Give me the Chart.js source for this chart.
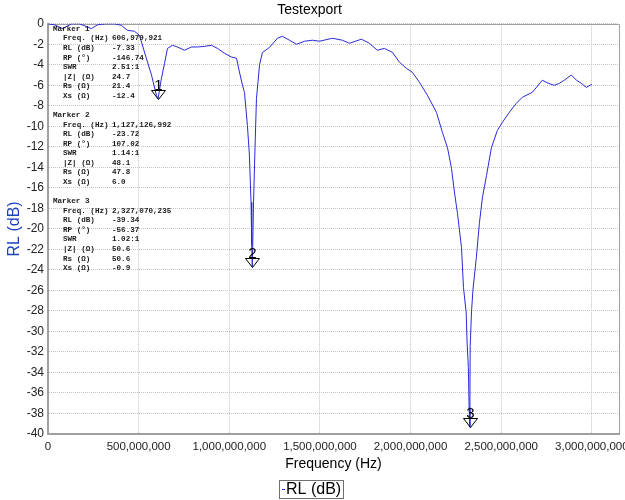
<!DOCTYPE html>
<html>
<head>
<meta charset="utf-8">
<title>Testexport</title>
<script src="https://cdn.jsdelivr.net/npm/chart.js@4.4.1/dist/chart.umd.min.js"></script>
<style>
  html, body { margin: 0; padding: 0; background: #fff; }
  #wrap { width: 625px; height: 500px; }
</style>
</head>
<body>
<div id="wrap"><canvas id="rlChart" width="625" height="500"></canvas></div>
<script>
// ---------------------------Data------------------------------------------------
// sweep frequency (MHz) and return loss (dB)
const freqMHz = [
  0, 36, 80, 130, 174, 240, 273, 317, 367, 405,
  438, 477, 505, 532, 571, 598, 607, 626, 643, 659,
  687, 714, 753, 792, 825, 863, 902, 935, 974, 1012,
  1040, 1056, 1073, 1084, 1100, 1111, 1120, 1124, 1127, 1134,
  1142, 1150, 1167, 1183, 1222, 1266, 1293, 1332, 1371, 1415,
  1459, 1498, 1569, 1624, 1663, 1729, 1773, 1817, 1856, 1900,
  1939, 1977, 2010, 2049, 2093, 2143, 2176, 2204, 2226, 2242,
  2259, 2281, 2292, 2307, 2312, 2319, 2323, 2327, 2329, 2336,
  2344, 2363, 2380, 2397, 2419, 2446, 2479, 2507, 2545, 2584,
  2617, 2672, 2727, 2760, 2793, 2821, 2848, 2887, 2915, 2942,
  2970, 3000
];
const rlDb = [
  0, -0.1, -0.47, 0, 0, -0.47, -0.1, 0, 0, -0.15,
  -0.63, -0.73, -1.12, -2.75, -5.0, -6.97, -7.33, -5.3, -3.85, -2.4,
  -2.1, -2.26, -2.58, -2.26, -2.26, -2.2, -2.1, -2.4, -2.88, -3.24,
  -3.36, -4.7, -6.0, -6.7, -9.9, -12.8, -17.4, -21.6, -23.72, -17.4,
  -12.1, -7.3, -4.0, -2.8, -2.3, -1.41, -1.22, -1.6, -2.0, -1.7,
  -1.6, -1.7, -1.41, -1.6, -1.9, -1.5, -1.9, -2.58, -2.4, -2.78,
  -3.75, -4.34, -4.73, -5.7, -6.97, -8.63, -10.6, -12.1, -14.1, -16.4,
  -18.5, -21.8, -25.7, -28.2, -31.1, -33.5, -37.4, -39.34, -31.5, -28.2,
  -26.0, -22.8, -19.4, -16.9, -14.8, -12.1, -10.4, -9.6, -8.63, -7.75,
  -7.16, -6.68, -5.5, -5.8, -6.0, -5.8, -5.5, -5.0, -5.5, -5.8,
  -6.2, -5.9
];

// marker readouts
const markerNames = ["1", "2", "3"];
const markerFreqHz = [606979921, 1127126992, 2327070235];
const markerRl = [-7.33, -23.72, -39.34];
const markerRp = [-146.74, 107.02, -56.37];
const markerSwr = [2.51, 1.14, 1.02];
const markerZ = [24.7, 48.1, 50.6];
const markerRs = [21.4, 47.8, 50.6];
const markerXs = [-12.4, 6.0, -0.9];

// axes
const xTickValues = [0, 500000000, 1000000000, 1500000000, 2000000000, 2500000000, 3000000000];
const xMaxHz = 3150000000;
const yMin = -40;
const yMax = 0;
const yStep = 2;
// ----------------------------------------------------------------------------------------------

Chart.defaults.font.family = '"Liberation Sans", Arial, sans-serif';
Chart.defaults.color = "#222";

// Triangles + numbers at each marker, and the readout block in the top left
const markerPlugin = {
  id: "markers",
  afterDatasetsDraw(chart) {
    const ctx = chart.ctx;
    const area = chart.chartArea;
    const meta = chart.getDatasetMeta(1);
    ctx.save();

    meta.data.forEach((pt, i) => {
      const x = Math.round(pt.x) + 0.5;
      const y = Math.round(pt.y) + 0.5;
      ctx.beginPath();
      ctx.moveTo(x, y);
      ctx.lineTo(x - 7, y - 9);
      ctx.lineTo(x + 7, y - 9);
      ctx.closePath();
      ctx.strokeStyle = "#000";
      ctx.lineWidth = 1;
      ctx.stroke();
      ctx.fillStyle = "#000";
      ctx.font = '15px "Liberation Sans", Arial, sans-serif';
      ctx.textAlign = "center";
      ctx.textBaseline = "alphabetic";
      ctx.fillText(markerNames[i], x, y - 10);
    });

    const rows = [];
    markerNames.forEach((n, i) => {
      rows.push(["Marker " + n, null]);
      rows.push(["Freq. (Hz)", markerFreqHz[i].toLocaleString("en-US")]);
      rows.push(["RL (dB)", markerRl[i].toFixed(2)]);
      rows.push(["RP (°)", markerRp[i].toFixed(2)]);
      rows.push(["SWR", markerSwr[i].toFixed(2) + ":1"]);
      rows.push(["|Z| (Ω)", markerZ[i].toFixed(1)]);
      rows.push(["Rs (Ω)", markerRs[i].toFixed(1)]);
      rows.push(["Xs (Ω)", markerXs[i].toFixed(1)]);
      rows.push(null);
    });
    ctx.font = 'bold 7.6px "Liberation Mono", "Courier New", monospace';
    ctx.fillStyle = "#1a1a1a";
    ctx.textAlign = "left";
    ctx.textBaseline = "middle";
    rows.forEach((r, k) => {
      if (!r) return;
      const y = 29 + k * 9.57;
      if (r[1] === null) {
        ctx.fillText(r[0], area.left + 5, y);
      } else {
        ctx.fillText(r[0], area.left + 15, y);
        ctx.fillText(r[1], area.left + 64, y);
      }
    });
    ctx.restore();
  },
};

// grey frame on the top/right edges of the plot
const framePlugin = {
  id: "frame",
  beforeDatasetsDraw(chart) {
    const { ctx, chartArea: a } = chart;
    ctx.save();
    ctx.strokeStyle = "#a0a0a0";
    ctx.lineWidth = 1;
    ctx.beginPath();
    ctx.moveTo(a.left, Math.round(a.top) + 0.5);
    ctx.lineTo(Math.round(a.right) + 0.5, Math.round(a.top) + 0.5);
    ctx.lineTo(Math.round(a.right) + 0.5, a.bottom);
    ctx.stroke();
    ctx.restore();
  },
};

// boxed legend under the axis title
const legendBoxPlugin = {
  id: "legendBox",
  afterDraw(chart) {
    const ctx = chart.ctx;
    const ds = chart.data.datasets[0];
    ctx.save();
    ctx.font = '16px "Liberation Sans", Arial, sans-serif';
    const tw = ctx.measureText(ds.label).width;
    const boxW = Math.round(tw + 9);
    const left = Math.round((chart.width - boxW) / 2) - 2;
    const top = 480;
    ctx.strokeStyle = "#707070";
    ctx.lineWidth = 1;
    ctx.strokeRect(left + 0.5, top + 0.5, boxW, 18);
    ctx.strokeStyle = ds.borderColor;
    ctx.beginPath();
    ctx.moveTo(left + 3, top + 9.5);
    ctx.lineTo(left + 6, top + 9.5);
    ctx.stroke();
    ctx.fillStyle = "#000";
    ctx.textAlign = "left";
    ctx.textBaseline = "middle";
    ctx.fillText(ds.label, left + 7, top + 10);
    ctx.restore();
  },
};

const gridStyle = { color: "#c4c4c4", lineWidth: 1, drawTicks: false };
const borderStyle = { display: true, color: "#a0a0a0", width: 2, dash: [1, 1] };

new Chart(document.getElementById("rlChart"), {
  type: "scatter",
  data: {
    datasets: [
      {
        label: "RL (dB)",
        data: freqMHz.map((f, i) => ({ x: f * 1e6, y: rlDb[i] })),
        showLine: true,
        borderColor: "#2a2ad6",
        borderWidth: 1,
        pointRadius: 0,
        pointHoverRadius: 0,
        tension: 0,
      },
      {
        label: "Markers",
        data: markerFreqHz.map((f, i) => ({ x: f, y: markerRl[i] })),
        showLine: false,
        pointRadius: 0,
        pointHoverRadius: 0,
      },
    ],
  },
  options: {
    responsive: false,
    animation: false,
    events: [],
    layout: { padding: { left: 0, right: 6, top: 0, bottom: 21 } },
    plugins: {
      legend: { display: false },
      tooltip: { enabled: false },
      title: {
        display: true,
        text: "Testexport",
        color: "#000",
        font: { size: 14, weight: "normal" },
        padding: { top: 2, bottom: 5 },
      },
    },
    scales: {
      x: {
        type: "linear",
        min: 0,
        max: xMaxHz,
        // fixed 500 MHz ticks; the axis itself runs a bit past 3 GHz
        afterBuildTicks: (s) => {
          s.ticks = xTickValues.map((v) => ({ value: v }));
        },
        afterFit: (s) => {
          s.height = 45;
          s.paddingLeft = 0;
          s.paddingRight = 0;
        },
        ticks: {
          autoSkip: false,
          maxRotation: 0,
          padding: 6,
          color: "#222",
          font: { size: 11.5 },
          callback: (v) => v.toLocaleString("en-US"),
        },
        grid: gridStyle,
        border: borderStyle,
        title: {
          display: true,
          text: "Frequency (Hz)",
          color: "#000",
          font: { size: 14 },
          padding: { top: 0, bottom: 6 },
        },
      },
      y: {
        min: yMin,
        max: yMax,
        afterFit: (s) => {
          s.width = 48;
        },
        ticks: { stepSize: yStep, padding: 4, color: "#222", font: { size: 12 } },
        grid: gridStyle,
        border: borderStyle,
        title: {
          display: true,
          text: "RL (dB)",
          color: "#1c3fc4",
          font: { size: 16 },
          padding: { top: 5, bottom: 0 },
        },
      },
    },
  },
  plugins: [framePlugin, markerPlugin, legendBoxPlugin],
});
</script>
</body>
</html>
